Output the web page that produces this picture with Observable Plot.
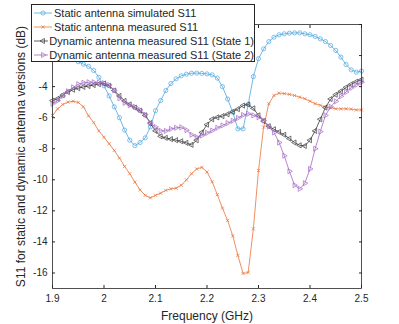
<!DOCTYPE html>
<html><head><meta charset="utf-8">
<script src="https://cdn.jsdelivr.net/npm/d3@7"></script>
<script src="https://cdn.jsdelivr.net/npm/@observablehq/plot@0.6"></script>
<style>
body{margin:0;background:#fff;}
#wrap{position:relative;width:399px;height:324px;font-family:"Liberation Sans",Arial,sans-serif;}
#legend{position:absolute;left:31px;top:4px;width:222px;height:55px;background:#fff;border:1px solid #262626;padding-top:1px;}
.row{height:14px;display:flex;align-items:center;font-size:11px;color:#262626;white-space:nowrap;}
.row svg{margin-left:1px;margin-right:1px;}
</style>
</head><body>
<div id="wrap"><div id="legend"></div></div>
<script>
const freq = [1.90,1.91,1.92,1.93,1.94,1.95,1.96,1.97,1.98,1.99,2.00,2.01,2.02,2.03,2.04,2.05,2.06,2.07,2.08,2.09,2.10,2.11,2.12,2.13,2.14,2.15,2.16,2.17,2.18,2.19,2.20,2.21,2.22,2.23,2.24,2.25,2.26,2.27,2.28,2.29,2.30,2.31,2.32,2.33,2.34,2.35,2.36,2.37,2.38,2.39,2.40,2.41,2.42,2.43,2.44,2.45,2.46,2.47,2.48,2.49,2.50];

const staticSim = [-1.55,-1.70,-1.88,-2.05,-2.22,-2.40,-2.55,-2.70,-2.96,-3.40,-3.95,-4.60,-5.30,-6.00,-6.80,-7.45,-7.80,-7.60,-7.30,-6.60,-5.55,-4.90,-4.25,-3.80,-3.50,-3.30,-3.20,-3.14,-3.13,-3.15,-3.18,-3.24,-3.45,-4.00,-4.80,-5.65,-6.72,-6.72,-5.15,-3.35,-2.20,-1.57,-1.10,-0.82,-0.66,-0.60,-0.56,-0.54,-0.54,-0.60,-0.66,-0.77,-0.92,-1.10,-1.35,-1.67,-2.10,-2.58,-2.92,-3.07,-3.00];

const staticMeas = [-5.86,-5.43,-5.15,-5.00,-4.94,-5.02,-5.30,-5.88,-6.32,-6.85,-7.26,-7.68,-8.11,-8.60,-9.14,-9.61,-10.15,-10.65,-11.00,-11.16,-11.00,-10.86,-10.68,-10.58,-10.54,-10.35,-10.00,-9.61,-9.30,-9.20,-9.50,-10.12,-10.96,-11.82,-12.62,-13.61,-14.87,-16.03,-15.97,-13.16,-9.40,-6.61,-5.10,-4.57,-4.42,-4.45,-4.50,-4.57,-4.68,-4.78,-4.94,-5.10,-5.20,-5.32,-5.36,-5.43,-5.43,-5.43,-5.45,-5.50,-5.50];

const dynState1 = [-4.90,-4.78,-4.55,-4.35,-4.20,-4.10,-4.02,-3.96,-3.90,-3.84,-3.80,-3.95,-4.25,-4.60,-4.92,-5.15,-5.35,-5.55,-5.85,-6.35,-6.85,-7.20,-7.30,-7.38,-7.45,-7.52,-7.62,-7.75,-7.45,-6.95,-6.45,-6.10,-5.98,-5.90,-5.78,-5.62,-5.45,-5.22,-5.15,-5.40,-5.85,-6.22,-6.55,-6.75,-6.92,-7.10,-7.35,-7.60,-7.78,-7.82,-7.45,-6.85,-6.10,-5.35,-4.80,-4.52,-4.30,-4.05,-3.85,-3.68,-3.55];

const dynState2 = [-5.10,-4.90,-4.60,-4.30,-4.05,-3.85,-3.75,-3.72,-3.72,-3.74,-3.78,-3.90,-4.25,-4.75,-5.05,-5.20,-5.30,-5.50,-5.80,-6.35,-6.60,-6.85,-6.85,-6.72,-6.65,-6.62,-6.80,-7.10,-7.25,-7.15,-6.98,-6.83,-6.65,-6.50,-6.35,-6.20,-6.02,-5.83,-5.75,-5.85,-5.97,-6.18,-6.57,-6.95,-7.60,-8.45,-9.45,-10.35,-10.58,-10.22,-9.30,-8.00,-6.90,-5.85,-5.30,-4.95,-4.62,-4.35,-4.08,-3.88,-3.72];

const seriesNames = ["Static antenna simulated S11","Static antenna measured S11","Dynamic antenna measured S11 (State 1)","Dynamic antenna measured S11 (State 2)"];
const xTicks = [1.9,2.0,2.1,2.2,2.3,2.4,2.5];
const yTicks = [-16,-14,-12,-10,-8,-6,-4,-2,0];
const xLabel = "Frequency (GHz)";
const yLabel = "S11 for static and dynamic antenna versions (dB)";

const colors = ["#4DA6DF","#E8733C","#3a3a3a","#A368C4"];
const symbols = [d3.symbolCircle, d3.symbolTimes, d3.symbolTriangle, d3.symbolTriangle];
const rotations = [0, 0, -90, 90];
const radii = [2.1, 1.6, 1.9, 1.9];
const values = [staticSim, staticMeas, dynState1, dynState2];

const tables = values.map(v => freq.map((f, i) => ({f, v: v[i]})));

const marks = [];
tables.forEach((t, k) => {
  marks.push(Plot.line(t, {x: "f", y: "v", stroke: colors[k], strokeWidth: 0.8}));
  marks.push(Plot.dot(t, {x: "f", y: "v", stroke: colors[k], fill: "none", strokeWidth: 0.7, symbol: symbols[k], r: radii[k], rotate: rotations[k]}));
});

const fmt = d => String(d);
const chart = Plot.plot({
  width: 399, height: 324,
  marginLeft: 52, marginRight: 38, marginTop: 24, marginBottom: 36,
  style: {fontFamily: "Liberation Sans, Arial, sans-serif", fontSize: "10px", color: "#262626", background: "#fff"},
  x: {domain: [1.9, 2.5]},
  y: {domain: [-17, 0]},
  marks: [
    ...marks,
    Plot.frame({stroke: "#262626", strokeWidth: 0.8}),
    Plot.axisX(xTicks, {anchor: "bottom", tickSize: -3, tickPadding: 9, tickFormat: fmt, fontSize: 10, label: null}),
    Plot.axisX([], {anchor: "bottom", tickSize: 0, fontSize: 12, label: xLabel, labelAnchor: "center", labelArrow: "none", labelOffset: 31}),
    Plot.axisX(xTicks, {anchor: "top", tickSize: -3, tickFormat: () => "", label: null}),
    Plot.axisY(yTicks, {anchor: "left", tickSize: -3, tickPadding: 8, tickFormat: fmt, fontSize: 10, label: null}),
    Plot.axisY([], {anchor: "left", tickSize: 0, fontSize: 12, label: yLabel, labelAnchor: "center", labelArrow: "none", labelOffset: 36}),
    Plot.axisY(yTicks, {anchor: "right", tickSize: -3, tickFormat: () => "", label: null})
  ]
});
const wrap = document.getElementById("wrap");
wrap.insertBefore(chart, wrap.firstChild);

const legend = document.getElementById("legend");
seriesNames.forEach((name, k) => {
  const row = document.createElement("div");
  row.className = "row";
  const s = d3.create("svg").attr("width", 20).attr("height", 12);
  s.append("line").attr("x1", 1).attr("x2", 19).attr("y1", 6).attr("y2", 6).attr("stroke", colors[k]).attr("stroke-width", 0.8);
  const area = Math.PI * radii[k] * radii[k];
  s.append("path").attr("d", d3.symbol(symbols[k], area)()).attr("transform", `translate(10,6) rotate(${rotations[k]})`).attr("fill", "none").attr("stroke", colors[k]).attr("stroke-width", 0.7);
  row.appendChild(s.node());
  const t = document.createElement("span");
  t.textContent = name;
  row.appendChild(t);
  legend.appendChild(row);
});
</script>
</body></html>
